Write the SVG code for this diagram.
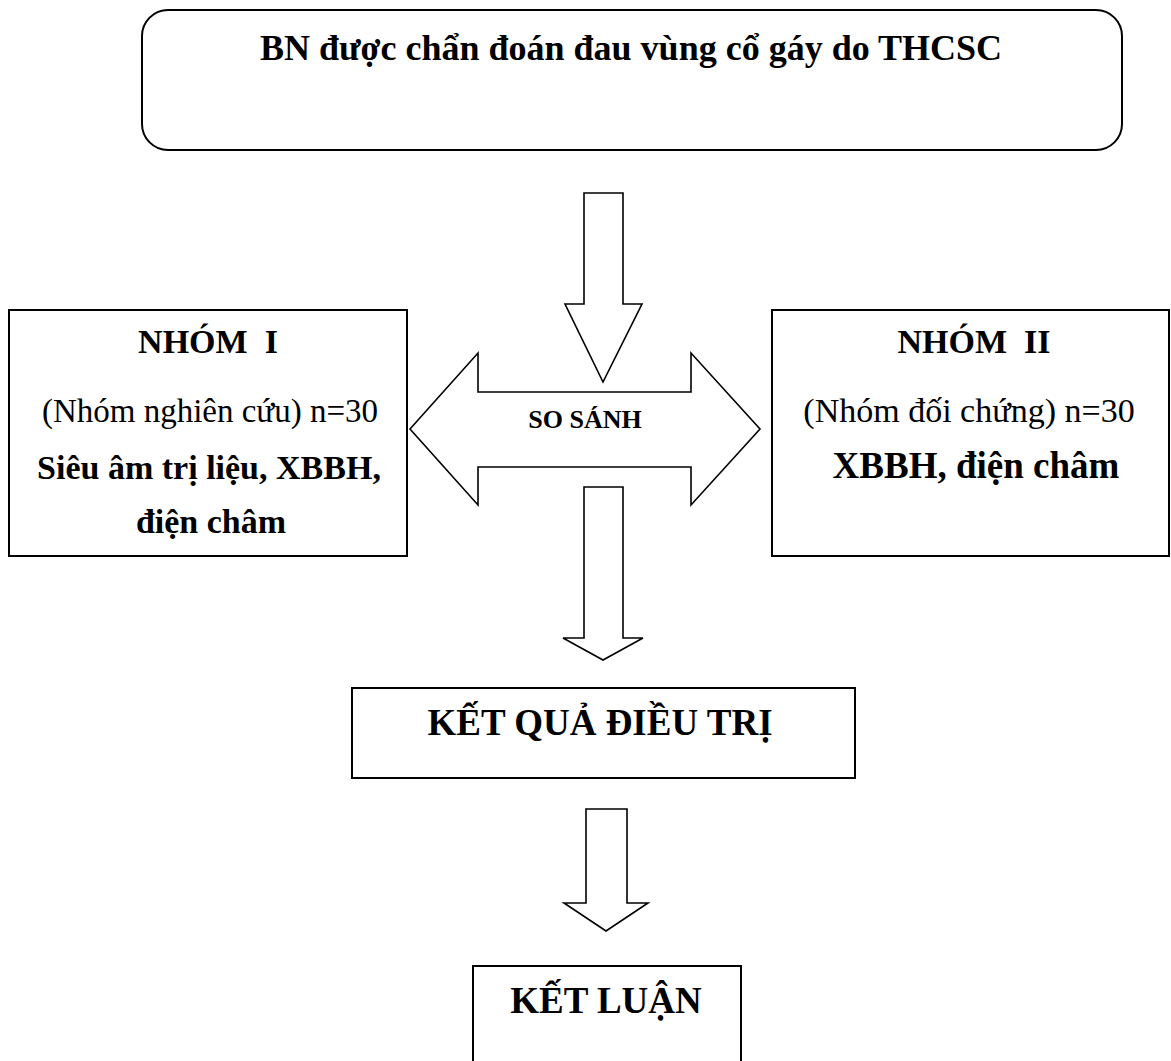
<svg xmlns="http://www.w3.org/2000/svg" width="1171" height="1061" viewBox="0 0 1171 1061">
<style>
  .box { fill: #ffffff; stroke: #000000; stroke-width: 2; }
  .arrow { fill: #ffffff; stroke: #000000; stroke-width: 1.6; stroke-linejoin: miter; }
  text { font-family: "Liberation Serif", "Times New Roman", serif; fill: #000000; text-anchor: middle; }
  .b { font-weight: bold; }
  .f33 { font-size: 33px; }
  .f34 { font-size: 34px; }
  .f36 { font-size: 36px; }
  .f37 { font-size: 37px; }
  .f26 { font-size: 26px; }
</style>
<rect width="1171" height="1061" fill="#ffffff"/>

<g id="connectors">
  <path class="arrow" d="M584,193 H623 V304 H642 L603,382 L565,304 H584 Z"/>
  <g id="compare">
    <path class="arrow" d="M410,429 L478,353 V392 H691 V353 L760,429 L691,505 V467 H478 V505 Z"/>
    <text class="b f26" x="585" y="428">SO SÁNH</text>
  </g>
  <path class="arrow" d="M584,487 H623 V638 H643 L603,660 L563,638 H584 Z"/>
  <path class="arrow" d="M586,809 H627 V903 H648 L606,931 L564,903 H586 Z"/>
</g>

<g id="node-patient">
  <rect class="box" x="142" y="10" width="980" height="140" rx="26" ry="26"/>
  <text class="b f36" x="631" y="60">BN được chẩn đoán đau vùng cổ gáy do THCSC</text>
</g>

<g id="node-group1">
  <rect class="box" x="9" y="310" width="398" height="246"/>
  <text class="b f34" x="208" y="353" xml:space="preserve">NHÓM  I</text>
  <text class="f33" x="210" y="422">(Nhóm nghiên cứu) n=30</text>
  <text class="b f34" x="209" y="479">Siêu âm trị liệu, XBBH,</text>
  <text class="b f34" x="211" y="533">điện châm</text>
</g>

<g id="node-group2">
  <rect class="box" x="772" y="310" width="397" height="246"/>
  <text class="b f34" x="974" y="353" xml:space="preserve">NHÓM  II</text>
  <text class="f34" x="969" y="422">(Nhóm đối chứng) n=30</text>
  <text class="b f37" x="976" y="478">XBBH, điện châm</text>
</g>

<g id="node-result">
  <rect class="box" x="352" y="688" width="503" height="90"/>
  <text class="b f37" x="600" y="735">KẾT QUẢ ĐIỀU TRỊ</text>
</g>

<g id="node-conclusion">
  <path class="box" d="M473,1063 V966 H741 V1063"/>
  <text class="b f37" x="606" y="1013">KẾT LUẬN</text>
</g>
</svg>
